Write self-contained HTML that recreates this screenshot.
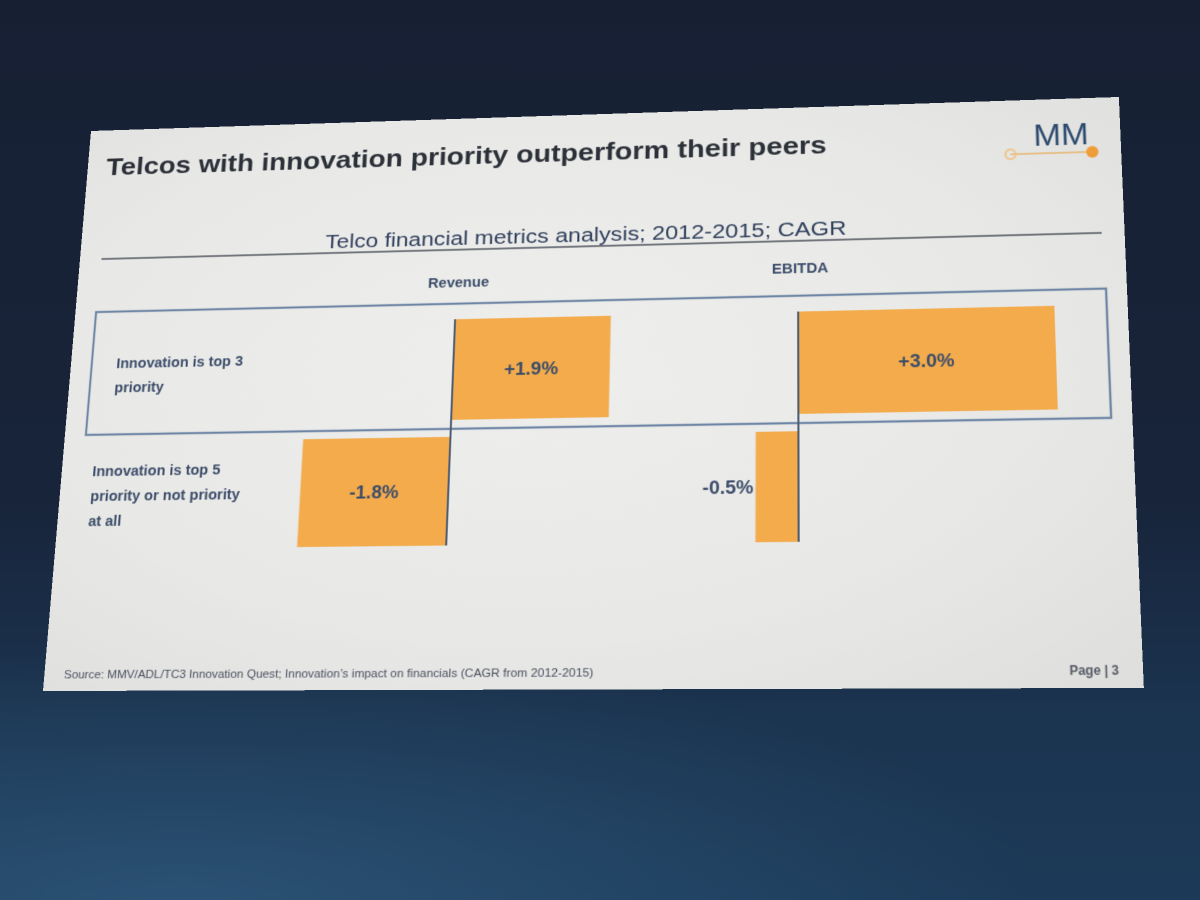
<!DOCTYPE html>
<html>
<head>
<meta charset="utf-8">
<style>
  html,body{margin:0;padding:0;}
  body{width:1200px;height:900px;overflow:hidden;position:relative;
    background:linear-gradient(180deg,#172033 0%,#18243a 55%,#1b3450 80%,#1c3a58 100%);
    font-family:"Liberation Sans",sans-serif;}
  #glow{position:absolute;left:0;top:600px;width:1200px;height:300px;
    background:radial-gradient(ellipse at 15% 100%,rgba(60,110,150,0.45),rgba(0,0,0,0) 60%);}
  #slide{position:absolute;left:0;top:0;width:1060px;height:575px;transform-origin:0 0;
    background:radial-gradient(ellipse at 45% 45%,#eeeeec 0%,#e8e8e6 60%,#dededc 100%);}
  #slide svg{display:block;}
</style>
</head>
<body>
<div id="glow"></div>
<div id="slide">
<svg id="chart" width="1060" height="575" viewBox="0 0 1060 575" xmlns="http://www.w3.org/2000/svg">
  <text x="20" y="49" font-size="25" font-weight="bold" fill="#2c3038" textLength="750" lengthAdjust="spacingAndGlyphs">Telcos with innovation priority outperform their peers</text>
  <g>
    <text x="1002" y="48" font-size="32" fill="#2c4a6e" text-anchor="middle" textLength="54" lengthAdjust="spacingAndGlyphs">MM</text>
    <line x1="952" y1="56" x2="1030" y2="56" stroke="#e8b36a" stroke-width="1.5"/>
    <circle cx="952" cy="56" r="5" fill="none" stroke="#edc48a" stroke-width="2"/>
    <circle cx="1032" cy="56" r="6" fill="#ef9d3a"/>
  </g>
  <text x="524" y="134" font-size="20" fill="#2f3f5c" text-anchor="middle" textLength="530" lengthAdjust="spacingAndGlyphs">Telco financial metrics analysis; 2012-2015; CAGR</text>
  <line x1="23" y1="139" x2="1038" y2="139" stroke="#4a4f58" stroke-width="1.5"/>
  <rect x="22" y="195" width="1018" height="127" fill="none" stroke="#6e86a6" stroke-width="2.2"/>
  <g id="rowLabels" font-size="15" font-weight="bold" fill="#3b4c69"></g>
  <g id="bars"></g>
  <text x="20" y="563" font-size="11" fill="#4a5060" textLength="525" lengthAdjust="spacingAndGlyphs">Source: MMV/ADL/TC3 Innovation Quest; Innovation’s impact on financials (CAGR from 2012-2015)</text>
  <text x="1038" y="563" font-size="12" font-weight="bold" fill="#555a66" text-anchor="end">Page | 3</text>
</svg>
</div>
<script>
// ---- chart data ----
const metrics = ["Revenue", "EBITDA"];
const rowLines = [["Innovation is top 3", "priority"], ["Innovation is top 5", "priority or not priority", "at all"]];
const revenueValues = [1.9, -1.8];
const ebitdaValues = [3.0, -0.5];

// ---- layout / axis functions ----
const NS = "http://www.w3.org/2000/svg";
const svg = document.getElementById("chart");
const barsG = document.getElementById("bars");
const rowG = document.getElementById("rowLabels");
const axisX = [397, 741];
const pxPerPct = 83;
const rowTop = [211, 330];
const rowH = [102, 107];
function xScale(m, v) { return axisX[m] + v * pxPerPct; }
function fmt(v) { return (v > 0 ? "+" : "") + v.toFixed(1) + "%"; }

// metric headers
const headerY = [173, 167];
metrics.forEach((m, i) => {
  const t = document.createElementNS(NS, "text");
  t.setAttribute("x", axisX[i] + 2);
  t.setAttribute("y", headerY[i] + 5);
  t.setAttribute("font-size", "15");
  t.setAttribute("font-weight", "bold");
  t.setAttribute("fill", "#3b4c69");
  t.setAttribute("text-anchor", "middle");
  t.textContent = m;
  
  
  svg.appendChild(t);
});

// row labels
const rowLabelX = [48, 32];
const rowLabelY = [254, 364];
rowLines.forEach((lines, r) => {
  lines.forEach((ln, k) => {
    const t = document.createElementNS(NS, "text");
    t.setAttribute("x", rowLabelX[r]);
    t.setAttribute("y", rowLabelY[r] + k * 25);
    t.textContent = ln;
    
    
    rowG.appendChild(t);
  });
});

// bars
const series = [revenueValues, ebitdaValues];
series.forEach((vals, m) => {
  vals.forEach((v, r) => {
    const x0 = xScale(m, 0), x1 = xScale(m, v);
    const rect = document.createElementNS(NS, "rect");
    rect.setAttribute("x", Math.min(x0, x1));
    rect.setAttribute("y", rowTop[r]);
    rect.setAttribute("width", Math.abs(x1 - x0));
    rect.setAttribute("height", rowH[r]);
    rect.setAttribute("fill", "#f3ab4c");
    
    
    barsG.appendChild(rect);
    const lab = document.createElementNS(NS, "text");
    const w = Math.abs(x1 - x0);
    let lx = (x0 + x1) / 2, anchor = "middle";
    if (w < 80) { lx = Math.min(x0, x1) - 2; anchor = "end"; }
    lab.setAttribute("x", lx);
    lab.setAttribute("y", rowTop[r] + rowH[r] / 2 + 7);
    lab.setAttribute("text-anchor", anchor);
    lab.setAttribute("font-size", "19");
    lab.setAttribute("font-weight", "bold");
    lab.setAttribute("fill", "#3b4c69");
    lab.textContent = fmt(v);
    
    
    barsG.appendChild(lab);
  });
  const ax = document.createElementNS(NS, "line");
  ax.setAttribute("x1", axisX[m]);
  ax.setAttribute("x2", axisX[m]);
  ax.setAttribute("y1", rowTop[0]);
  ax.setAttribute("y2", rowTop[1] + rowH[1]);
  ax.setAttribute("stroke", "#4d5c72");
  ax.setAttribute("stroke-width", "2");
  
  
  barsG.appendChild(ax);
});

// ---- perspective mapping of slide onto photographed quad ----
(function () {
  const W = 1060, H = 575;
  const q = [[91, 131], [1119, 97], [1144, 688], [43, 691]];
  const [x0, y0] = q[0], [x1, y1] = q[1], [x2, y2] = q[2], [x3, y3] = q[3];
  const dx1 = x1 - x2, dx2 = x3 - x2, dx3 = x0 - x1 + x2 - x3;
  const dy1 = y1 - y2, dy2 = y3 - y2, dy3 = y0 - y1 + y2 - y3;
  const den = dx1 * dy2 - dx2 * dy1;
  const g = (dx3 * dy2 - dx2 * dy3) / den;
  const h = (dx1 * dy3 - dx3 * dy1) / den;
  const a = x1 - x0 + g * x1, b = x3 - x0 + h * x3, c = x0;
  const d = y1 - y0 + g * y1, e = y3 - y0 + h * y3, f = y0;
  const m = [a / W, d / W, 0, g / W, b / H, e / H, 0, h / H, 0, 0, 1, 0, c, f, 0, 1];
  document.getElementById("slide").style.transform = "matrix3d(" + m.join(",") + ")";
})();
</script>
</body>
</html>
